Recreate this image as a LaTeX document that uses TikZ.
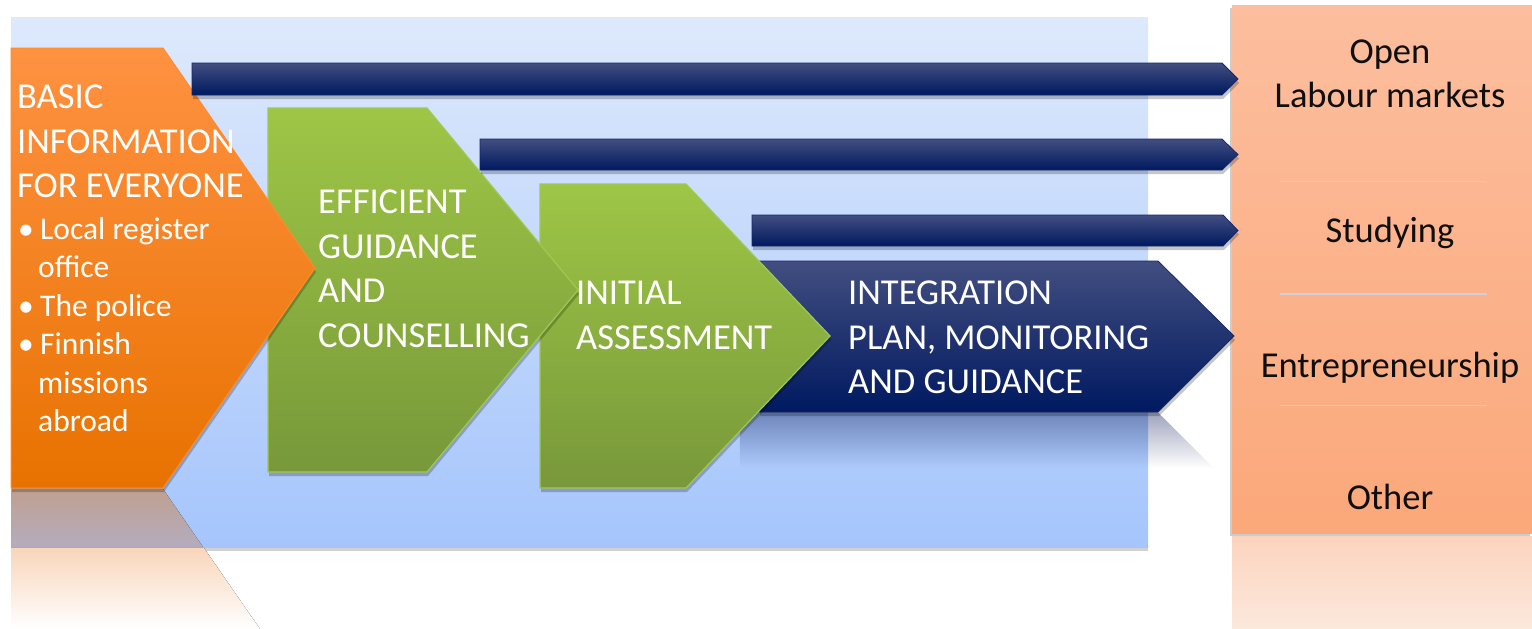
\documentclass[tikz,border=0pt]{standalone}
\usepackage{fontspec}
\setmainfont{Carlito}
\usetikzlibrary{shadows,fadings}
\definecolor{bgtop}{RGB}{222,233,252}
\definecolor{bgbot}{RGB}{165,197,252}
\definecolor{orT}{RGB}{255,146,66}
\definecolor{orM}{RGB}{255,130,8}
\definecolor{orB}{RGB}{232,114,0}
\definecolor{orE}{RGB}{255,140,40}
\definecolor{grT}{RGB}{158,198,70}
\definecolor{grB}{RGB}{120,152,58}
\definecolor{grE}{RGB}{160,200,85}
\definecolor{nvL}{RGB}{66,78,128}
\definecolor{nvD}{RGB}{0,25,96}
\definecolor{nvE}{RGB}{20,40,110}
\definecolor{nvRefl}{RGB}{0,14,80}
\definecolor{bxT}{RGB}{252,190,158}
\definecolor{bxB}{RGB}{251,168,122}
\definecolor{refT}{RGB}{192,160,145}
\definecolor{refB}{RGB}{180,172,190}
\definecolor{refO}{RGB}{248,214,186}
\definecolor{bxR1}{RGB}{252,212,190}
\definecolor{bxR2}{RGB}{252,232,220}
\definecolor{sepc}{RGB}{210,208,218}
\definecolor{txtdark}{RGB}{15,15,15}
\tikzfading[name=reflfade, top color=transparent!0, bottom color=transparent!100]
\begin{document}
\begin{tikzpicture}[x=1pt,y=-1pt,
  shd/.style={drop shadow={shadow xshift=1pt,shadow yshift=-4pt,opacity=0.22,fill=black}},
  panel/.style={top color=bgtop,bottom color=bgbot},
  orangearrow/.style={top color=orT,middle color=orM,bottom color=orB,draw=orE,line width=1pt},
  greenarrow/.style={top color=grT,bottom color=grB,draw=grE,line width=1.2pt},
  navyarrow/.style={top color=nvL,middle color=nvD,bottom color=nvD,draw=nvE,line width=0.8pt},
  outbox/.style={top color=bxT,bottom color=bxB},
  sepline/.style={draw=sepc,line width=1.2pt},
  head/.style={font=\fontsize{36.5}{44}\selectfont,text=white,inner sep=0pt,anchor=base west},
  blt/.style={font=\fontsize{31.5}{38}\selectfont,text=white,inner sep=0pt,anchor=base west},
  outtxt/.style={font=\fontsize{36.5}{44}\selectfont,text=txtdark,inner sep=0pt,anchor=base}
]
\useasboundingbox (0,0) rectangle (1532,629);
% background panel
\path[panel,drop shadow={shadow xshift=0pt,shadow yshift=-4pt,opacity=0.18,fill=black}] (11,17) rectangle (1148,547);
% reflections
\fill[top color=refT,bottom color=refB] (11,489) -- (163,489) -- (203,547) -- (11,547) -- cycle;
\fill[top color=refO,bottom color=white] (11,548) -- (204,548) -- (260,629) -- (11,629) -- cycle;
\fill[nvRefl,opacity=0.38,path fading=reflfade] (740,412) -- (1158,412) -- (1214,468) -- (740,468) -- cycle;
\fill[top color=bxR1,bottom color=bxR2] (1232,536) rectangle (1532,629);
% outcome box
\path[outbox,drop shadow={shadow xshift=-2pt,shadow yshift=-3pt,opacity=0.2,fill=black}] (1232,5) rectangle (1532,533);
\coordinate (s1a) at (1280,181.5); \coordinate (s1b) at (1487,181.5);
\coordinate (s2a) at (1280,294);   \coordinate (s2b) at (1487,294);
\coordinate (s3a) at (1280,405.5); \coordinate (s3b) at (1487,405.5);
\draw[sepline] (s1a) -- (s1b);
\draw[sepline] (s2a) -- (s2b);
\draw[sepline] (s3a) -- (s3b);
% big navy arrow
\path[navyarrow,shd] (759,261) -- (1158,261) -- (1234,336) -- (1158,412) -- (759,412) -- cycle;
% green arrows
\path[greenarrow,shd] (540,184) -- (686,184) -- (830,336) -- (686,488) -- (540,488) -- cycle;
\path[greenarrow,shd] (268,108) -- (427,108) -- (578,290) -- (427,472) -- (268,472) -- cycle;
% orange arrow
\path[orangearrow,shd] (11,48) -- (163,48) -- (315,268) -- (163,488) -- (11,488) -- cycle;
% thin navy bars
\path[navyarrow,shd] (192,63) -- (1222,63) -- (1238,79) -- (1222,95) -- (192,95) -- cycle;
\path[navyarrow,shd] (480,139) -- (1222,139) -- (1238,154.5) -- (1222,170) -- (480,170) -- cycle;
\path[navyarrow,shd] (752,215) -- (1223,215) -- (1238,230.5) -- (1223,246) -- (752,246) -- cycle;
% orange texts
\node[head] (b1) at (17,108.7) {BASIC};
\node[head] (b2) at (17,153.2) {INFORMATION};
\node[head] (b3) at (17,197.7) {FOR EVERYONE};
\node[blt] (l1) at (18,239) {\makebox[22pt][l]{•}Local register};
\node[blt] (l2) at (38,277.5) {office};
\node[blt] (l3) at (18,316) {\makebox[22pt][l]{•}The police};
\node[blt] (l4) at (18,354.5) {\makebox[22pt][l]{•}Finnish};
\node[blt] (l5) at (38,393) {missions};
\node[blt] (l6) at (38,431.5) {abroad};
% green 1 texts
\node[head] (g1) at (318,213.7) {EFFICIENT};
\node[head] (g2) at (318,258.2) {GUIDANCE};
\node[head] (g3) at (318,302.7) {AND};
\node[head] (g4) at (318,347.2) {COUNSELLING};
% green 2 texts
\node[head] (h1) at (576,304.7) {INITIAL};
\node[head] (h2) at (576,349.2) {ASSESSMENT};
% navy texts
\node[head] (n1) at (848,304.7) {INTEGRATION};
\node[head] (n2) at (848,349.2) {PLAN, MONITORING};
\node[head] (n3) at (848,393.7) {AND GUIDANCE};
% outcome texts
\node[outtxt] (o1) at (1390,63) {Open};
\node[outtxt] (o2) at (1390,107.5) {Labour markets};
\node[outtxt] (o3) at (1390,242.5) {Studying};
\node[outtxt] (o4) at (1390,377) {Entrepreneurship};
\node[outtxt] (o5) at (1390,509) {Other};
\end{tikzpicture}
\end{document}
